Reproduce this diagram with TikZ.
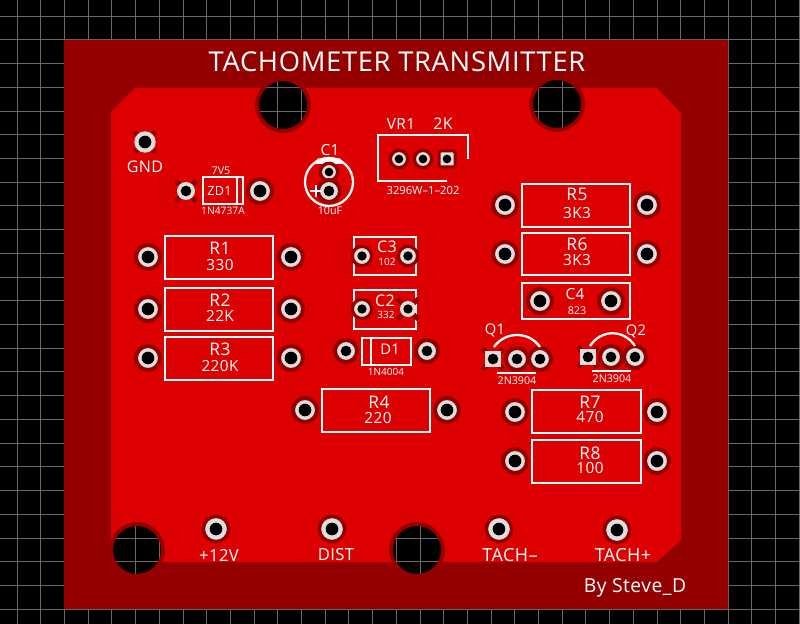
\documentclass[tikz,border=0pt]{standalone}
\usepackage{fontspec}
\setmainfont{Open Sans}[LetterSpace=2.5]
\newfontfamily\smallface{Open Sans}
\usepackage{xcolor}
\definecolor{boarddark}{RGB}{148,0,0}
\definecolor{boardred}{RGB}{220,0,0}
\definecolor{paddark}{RGB}{146,0,0}
\definecolor{padgrey}{RGB}{222,222,222}
\definecolor{gridgrey}{RGB}{105,105,105}
\tikzset{
  gridline/.style={draw=gridgrey,line width=0.5pt},
  silk/.style={draw=white,line width=1.7pt},
  silktxt/.style={text=white,inner sep=0pt,font=\fontsize{#1}{#1}\selectfont},
  silksmall/.style={text=white,inner sep=0pt,font=\smallface\fontsize{#1}{#1}\selectfont},
  padL/.style={circle,fill=padgrey,draw=paddark,inner sep=0pt,line width=3pt,minimum size=18pt},
  padL hole/.style={circle,fill=black,inner sep=0pt,minimum size=9.5pt},
  padT/.style={circle,fill=padgrey,draw=paddark,inner sep=0pt,line width=2.6pt,minimum size=19pt},
  padT hole/.style={circle,fill=black,inner sep=0pt,minimum size=9.5pt},
  padQ/.style={circle,fill=padgrey,draw=paddark,inner sep=0pt,line width=3pt,minimum size=16.5pt},
  padQ hole/.style={circle,fill=black,inner sep=0pt,minimum size=8pt},
  padC/.style={circle,fill=padgrey,draw=paddark,inner sep=0pt,line width=2.5pt,minimum size=14.5pt},
  padC hole/.style={circle,fill=black,inner sep=0pt,minimum size=7pt},
  padS/.style={circle,fill=padgrey,draw=paddark,inner sep=0pt,line width=2.5pt,minimum size=13pt},
  padS hole/.style={circle,fill=black,inner sep=0pt,minimum size=6.5pt},
  thermT/.style={circle,fill=padgrey,inner sep=0pt,minimum size=16pt},
  thermT hole/.style={padT hole},
  thermS/.style={circle,fill=padgrey,inner sep=0pt,minimum size=13.5pt},
  thermS hole/.style={padQ hole},
  thermC/.style={circle,fill=padgrey,inner sep=0pt,minimum size=12pt},
  thermC hole/.style={padC hole},
  padsq/.style={rectangle,fill=padgrey,inner sep=0pt,minimum size=12pt},
  padsq hole/.style={padQ hole},
  spoke/.style={draw=paddark,line width=3.5pt},
}
\newcommand{\pad}[4]{\node[#4] (#1) at (#2,#3) {}; \node[#4 hole] (#1h) at (#2,#3) {};}
\newcommand{\thermal}[5]{\foreach \a in {#5} \draw[spoke] (#2,#3) -- ++(\a:14.5); \pad{#1}{#2}{#3}{#4}}
\begin{document}
\begin{tikzpicture}[x=0.75pt,y=0.75pt,yscale=-1,xscale=1]
\useasboundingbox (0,0) rectangle (800,624);
%Shape: Background and grid
\fill[black] (0,0) rectangle (800,624);
\foreach \k in {0,...,33} \draw[gridline] ({17+23.7*\k},0) -- ({17+23.7*\k},624);
\foreach \k in {0,...,25} \draw[gridline] (0,{16+23.72*\k}) -- (800,{16+23.72*\k});
%Shape: Board with mounting holes
\fill[boarddark,even odd rule] (64,40) rectangle (728,609)
  (283,105) circle (24) (557,104) circle (24) (137,550) circle (24) (417,550) circle (24);
\begin{scope}
\clip (111,112) -- (135,88) -- (657,88) -- (681,113) -- (681,540) -- (657,562) -- (111,562) -- cycle;
\fill[boardred,even odd rule] (111,112) -- (135,88) -- (657,88) -- (681,113) -- (681,540) -- (657,562) -- (111,562) -- cycle
  (283,105) circle (28) (557,104) circle (28) (137,550) circle (28) (417,550) circle (28);
\end{scope}
%Title and credit
\node[silktxt=20.5] (title) at (397,62) {TACHOMETER TRANSMITTER};
\node[silktxt=14.5] (credit) at (635,588) {By Steve\_D};
%GND terminal
\thermal{gnd}{145}{142}{thermT}{45,135,225,315}
\node[silktxt=12] (gndtxt) at (145,167) {GND};
%Zener ZD1
\thermal{zda}{186}{191}{thermS}{45,135,225,315}
\pad{zdb}{260}{191}{padL}
\draw[silk] (203,177) rectangle (243,204) (237,177) -- (237,204);
\node[silktxt=9.5] (zdtxt) at (219.5,191) {ZD1};
\node[silksmall=8] (zdval) at (221,171) {7V5};
\node[silksmall=7.7] (zdpart) at (223,211) {1N4737A};
%Capacitor C1
\draw[silk] (329,182) circle (24);
\fill[white] (313,164) -- (345,164) -- (340,158.5) .. controls (333,157.5) and (325,157.5) .. (318,158.5) -- cycle;
\pad{cat}{329}{172}{padS}
\pad{cab}{329}{191}{padQ}
\draw[silk] (310,191) -- (322,191) (316,185) -- (316,197);
\node[silktxt=11.5] (catxt) at (330,150) {C1};
\node[silksmall=8] (caval) at (330,211) {10uF};
%Trimmer VR1
\draw[silk] (468,159) -- (468,135) -- (378,135) -- (378,181) -- (447,181);
\pad{vra}{399}{159}{padS}
\pad{vrb}{423}{159}{padS}
\node[padsq,draw=paddark,line width=2.25pt,rounded corners=1.5pt] (vrc) at (447,159) {};
\node[padS hole] (vrch) at (447,159) {};
\node[silktxt=11.5] (vrtxt) at (401,124) {VR1};
\node[silktxt=12] (vrval) at (443,124) {2K};
\node[silksmall=8.4] (vrpart) at (423,190) {3296W–1–202};
%Resistors R1 R2 R3
\draw[silk] (165,236) rectangle (273,279);
\pad{raa}{148}{257}{padL}
\pad{rab}{291}{257}{padL}
\node[silktxt=13] (ratxt) at (220,248) {R1};
\node[silktxt=11.5] (raval) at (220,265) {330};
\draw[silk] (165,288) rectangle (273,331);
\pad{rba}{148}{309}{padL}
\pad{rbb}{291}{309}{padL}
\node[silktxt=13] (rbtxt) at (220,300) {R2};
\node[silktxt=11.5] (rbval) at (220,316) {22K};
\draw[silk] (165,337) rectangle (273,380);
\pad{rca}{148}{358}{padL}
\pad{rcb}{291}{358}{padL}
\node[silktxt=13] (rctxt) at (220,349) {R3};
\node[silktxt=11.5] (rcval) at (220,366) {220K};
%Capacitors C3 C2 and diode D1
\draw[silk] (354,237) rectangle (416,275);
\pad{cca}{362}{256}{padC}
\pad{ccb}{408}{256}{padC}
\node[silktxt=12] (cctxt) at (387,247) {C3};
\node[silksmall=7.5] (ccval) at (387,262) {102};
\draw[silk] (354,290) rectangle (416,329);
\pad{cba}{362}{309}{padC}
\thermal{cbb}{408}{309}{thermC}{45,135,225,315}
\node[silktxt=12] (cbtxt) at (385,301) {C2};
\node[silksmall=7.5] (cbval) at (386,315) {332};
\draw[silk] (362,338) rectangle (411,365) (371,338) -- (371,365);
\pad{daa}{346}{351}{padQ}
\pad{dab}{427}{351}{padQ}
\node[silktxt=11] (datxt) at (390,349) {D1};
\node[silksmall=7.5] (dapart) at (386,372) {1N4004};
%Resistor R4
\draw[silk] (322,389) rectangle (430,432);
\pad{rda}{305}{410}{padL}
\pad{rdb}{447}{410}{padL}
\node[silktxt=13] (rdtxt) at (379,402) {R4};
\node[silktxt=11.5] (rdval) at (378,418) {220};
%Resistors R5 R6 and capacitor C4
\draw[silk] (522,184) rectangle (630,227);
\pad{rea}{505}{205}{padL}
\pad{reb}{647}{205}{padL}
\node[silktxt=13] (retxt) at (577,194) {R5};
\node[silktxt=11.5] (reval) at (577,213) {3K3};
\draw[silk] (522,233) rectangle (630,275);
\pad{rfa}{505}{254}{padL}
\pad{rfb}{647}{254}{padL}
\node[silktxt=13] (rftxt) at (577,244) {R6};
\node[silktxt=11.5] (rfval) at (577,260) {3K3};
\draw[silk] (522,283) rectangle (630,319);
\pad{cda}{540}{301}{padL}
\pad{cdb}{611}{301}{padL}
\node[silktxt=11.5] (cdtxt) at (575,294) {C4};
\node[silksmall=8] (cdval) at (577,311) {823};
%Transistors Q1 Q2
\thermal{qaa}{493}{359}{padsq}{45,135,225,315}
\pad{qab}{517}{359}{padQ}
\pad{qac}{540}{359}{padQ}
\draw[silk] (494,347) .. controls (505,331) and (529,331) .. (540,347);
\draw[silk] (497,373) -- (536,373);
\node[silktxt=11] (qatxt) at (495,330) {Q1};
\node[silksmall=8] (qapart) at (517,381) {2N3904};
\thermal{qba}{588}{357}{padsq}{45,135,225,315}
\pad{qbb}{611}{357}{padQ}
\pad{qbc}{635}{357}{padQ}
\draw[silk] (590,346) .. controls (601,329) and (624,329) .. (635,346);
\draw[silk] (592,371) -- (631,371);
\node[silktxt=11] (qbtxt) at (636,331) {Q2};
\node[silksmall=8] (qbpart) at (612,379) {2N3904};
%Resistors R7 R8
\draw[silk] (532,390) rectangle (641,433);
\pad{rga}{515}{412}{padL}
\pad{rgb}{657}{412}{padL}
\node[silktxt=13] (rgtxt) at (590,402) {R7};
\node[silktxt=11.5] (rgval) at (590,417) {470};
\draw[silk] (532,440) rectangle (641,483);
\pad{rha}{515}{461}{padL}
\pad{rhb}{657}{461}{padL}
\node[silktxt=13] (rhtxt) at (590,453) {R8};
\node[silktxt=11.5] (rhval) at (590,468) {100};
%Bottom terminals
\pad{tpa}{216}{529}{padT}
\pad{tpb}{332}{529}{padT}
\pad{tpc}{499}{529}{padT}
\pad{tpd}{617}{530}{padT}
\node[silktxt=12.5] (tpatxt) at (219,555) {+12V};
\node[silktxt=12.5] (tpbtxt) at (336,555) {DIST};
\node[silktxt=13.5] (tpctxt) at (510,555) {TACH--};
\node[silktxt=13.5] (tpdtxt) at (623,555) {TACH+};
\end{tikzpicture}
\end{document}
